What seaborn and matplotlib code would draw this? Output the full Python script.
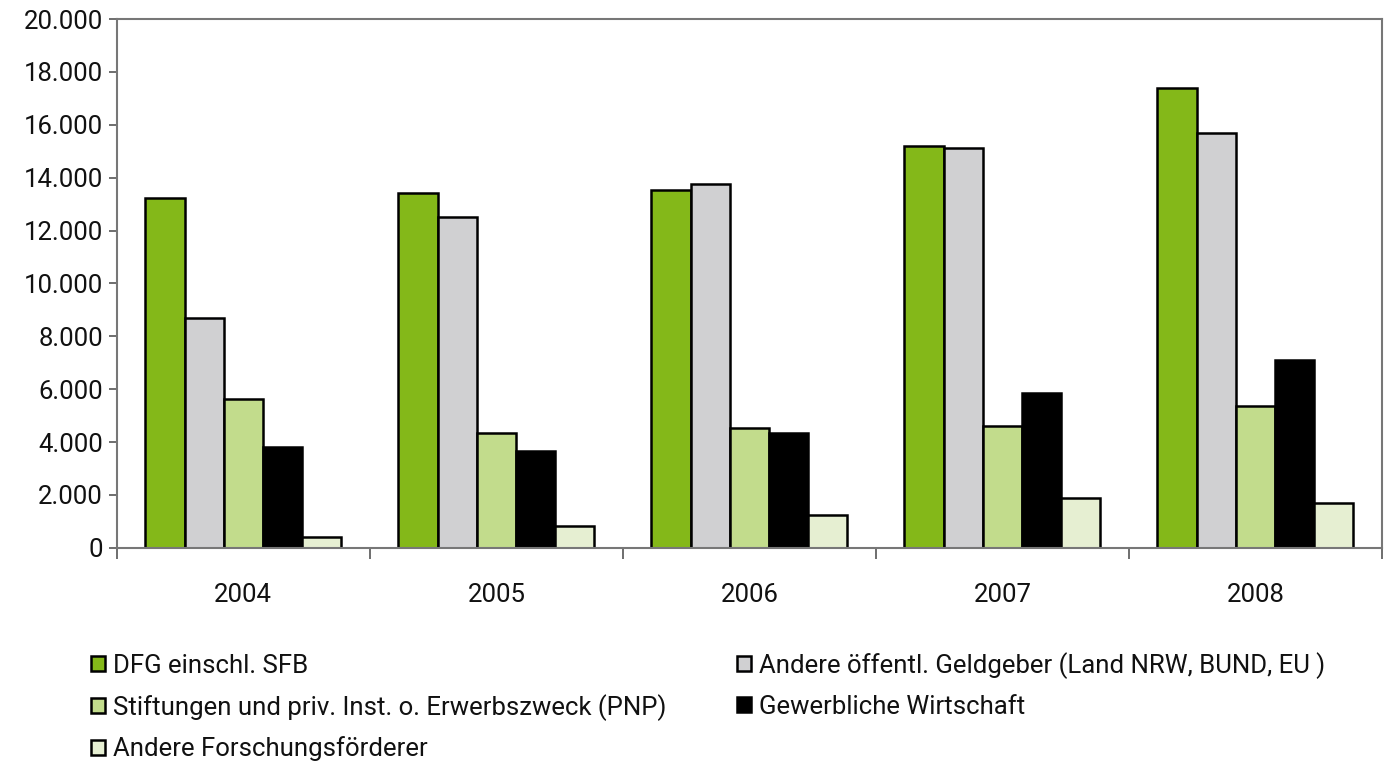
import matplotlib
matplotlib.use("Agg")
import matplotlib.pyplot as plt
from matplotlib.ticker import FuncFormatter, FixedLocator
import seaborn as sns
import pandas as pd

years = ["2004", "2005", "2006", "2007", "2008"]
series_names = [
    "DFG einschl. SFB",
    "Andere öffentl. Geldgeber (Land NRW, BUND, EU )",
    "Stiftungen und priv. Inst. o. Erwerbszweck (PNP)",
    "Gewerbliche Wirtschaft",
    "Andere Forschungsförderer",
]
dfg = [13250, 13420, 13530, 15200, 17390]
andere_oeff = [8700, 12510, 13760, 15120, 15690]
stiftungen = [5630, 4350, 4540, 4610, 5370]
gewerblich = [3820, 3670, 4350, 5860, 7110]
andere_forsch = [420, 830, 1250, 1890, 1700]
colors = ["#84B819", "#D0D0D2", "#C2DC8C", "#000000", "#E6EFD2"]

values = [dfg, andere_oeff, stiftungen, gewerblich, andere_forsch]
rows = []
for name, vals in zip(series_names, values):
    for y, v in zip(years, vals):
        rows.append({"Jahr": y, "Quelle": name, "Wert": v})
df = pd.DataFrame(rows)

sns.set_theme(style="white")
plt.rcParams["font.family"] = ["Roboto", "DejaVu Sans"]

fig = plt.figure(figsize=(13.91, 7.62), dpi=100)
ax = fig.add_axes([0.084, 0.281, 0.9095, 0.694])

sns.barplot(data=df, x="Jahr", y="Wert", hue="Quelle", order=years,
            hue_order=series_names, palette=colors, width=0.775,
            edgecolor="black", linewidth=1.8, saturation=1, ax=ax,
            legend=True)

ax.set_ylim(0, 20000)
ax.set_xlim(-0.5, 4.5)
ax.set_yticks(range(0, 20001, 2000))
ax.yaxis.set_major_formatter(FuncFormatter(lambda v, p: f"{int(v):,}".replace(",", ".")))
ax.set_xlabel("")
ax.set_ylabel("")
ax.tick_params(axis="y", length=6, width=1.2, color="#555555", labelsize=18.5,
               labelcolor="#111111", pad=4, left=True)
ax.tick_params(axis="x", which="major", length=0, labelsize=18.5,
               labelcolor="#111111", pad=25)
ax.xaxis.set_minor_locator(FixedLocator([-0.5, 0.5, 1.5, 2.5, 3.5, 4.5]))
ax.tick_params(axis="x", which="minor", length=8, width=1.2, color="#555555", bottom=True)
for s in ax.spines.values():
    s.set_visible(True)
    s.set_color("#777777")
    s.set_linewidth(1.5)

handles, labels = ax.get_legend_handles_labels()
ax.get_legend().remove()
order = [0, 2, 4, 1, 3]
leg = fig.legend([handles[i] for i in order], [labels[i] for i in order],
                 loc="upper left", bbox_to_anchor=(0.058, 0.158), ncol=2, frameon=False,
                 fontsize=18.5, handlelength=0.55, handleheight=0.55, handletextpad=0.3,
                 labelspacing=0.62, columnspacing=2.75, borderaxespad=0)
for t in leg.get_texts():
    t.set_color("#111111")

fig.savefig("out.png", dpi=100)
